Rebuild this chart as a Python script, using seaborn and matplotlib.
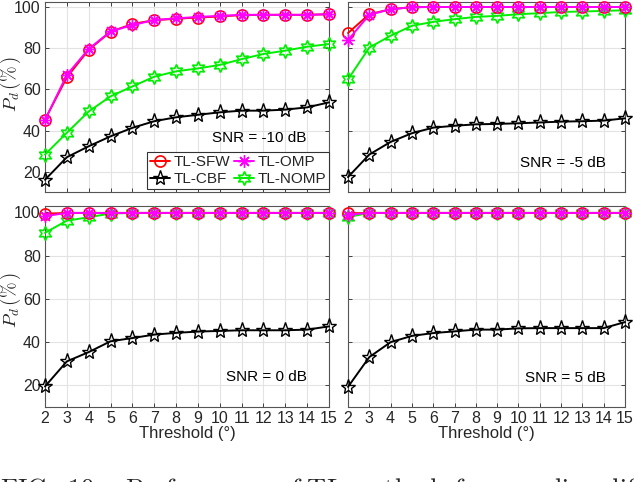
import numpy as np
import pandas as pd
import matplotlib
matplotlib.use("Agg")
import matplotlib.pyplot as plt
import seaborn as sns

thresholds = list(range(2, 16))

# SNR = -10 dB
sfw_m10 = [45.4, 65.8, 79.1, 87.8, 91.6, 93.4, 94.1, 94.7, 95.2, 95.9, 96.0, 96.0, 96.0, 96.3]
omp_m10 = [45.2, 67.0, 79.5, 88.0, 91.0, 93.5, 94.3, 95.0, 95.5, 96.0, 96.0, 96.0, 96.0, 96.3]
cbf_m10 = [16.3, 27.2, 32.5, 37.3, 41.4, 44.6, 46.5, 47.7, 48.9, 49.7, 49.7, 50.2, 51.3, 53.7]
nomp_m10 = [28.5, 39.0, 49.3, 56.6, 61.4, 66.1, 68.7, 70.1, 71.8, 74.6, 77.1, 78.7, 80.6, 81.9]

# SNR = -5 dB
sfw_m5 = [87.2, 96.3, 98.7, 99.7, 99.8, 99.8, 99.8, 99.8, 99.8, 99.8, 99.8, 99.8, 99.8, 99.8]
omp_m5 = [83.8, 96.0, 98.7, 99.7, 99.8, 99.8, 99.8, 99.8, 99.8, 99.8, 99.8, 99.8, 99.8, 99.8]
cbf_m5 = [17.6, 28.5, 34.6, 38.8, 41.5, 42.4, 43.1, 43.3, 43.6, 44.0, 44.4, 44.6, 44.9, 46.0]
nomp_m5 = [64.8, 80.2, 85.9, 90.7, 92.6, 93.9, 95.0, 95.5, 96.3, 96.8, 97.4, 97.6, 97.9, 98.2]

# SNR = 0 dB
sfw_0 = [99.4, 99.8, 99.8, 99.8, 99.8, 99.8, 99.8, 99.8, 99.8, 99.8, 99.8, 99.8, 99.8, 99.8]
omp_0 = [98.3, 99.8, 99.8, 99.8, 99.8, 99.8, 99.8, 99.8, 99.8, 99.8, 99.8, 99.8, 99.8, 99.8]
cbf_0 = [19.5, 31.1, 35.4, 40.4, 41.9, 43.5, 44.3, 44.9, 45.2, 45.5, 45.5, 45.5, 45.8, 47.3]
nomp_0 = [90.6, 96.2, 97.8, 99.5, 99.8, 99.8, 99.8, 99.8, 99.8, 99.8, 99.8, 99.8, 99.8, 99.8]

# SNR = 5 dB
sfw_5 = [99.6, 99.8, 99.8, 99.8, 99.8, 99.8, 99.8, 99.8, 99.8, 99.8, 99.8, 99.8, 99.8, 99.8]
omp_5 = [99.0, 99.8, 99.8, 99.8, 99.8, 99.8, 99.8, 99.8, 99.8, 99.8, 99.8, 99.8, 99.8, 99.8]
cbf_5 = [19.3, 33.1, 40.0, 42.9, 44.2, 45.0, 45.8, 45.8, 46.4, 46.5, 46.5, 46.5, 46.5, 49.3]
nomp_5 = [97.9, 99.8, 99.8, 99.8, 99.8, 99.8, 99.8, 99.8, 99.8, 99.8, 99.8, 99.8, 99.8, 99.8]

methods = ["TL-SFW", "TL-OMP", "TL-CBF", "TL-NOMP"]
snr_labels = ["SNR = -10 dB", "SNR = -5 dB", "SNR = 0 dB", "SNR = 5 dB"]
panels = [
    [sfw_m10, omp_m10, cbf_m10, nomp_m10],
    [sfw_m5, omp_m5, cbf_m5, nomp_m5],
    [sfw_0, omp_0, cbf_0, nomp_0],
    [sfw_5, omp_5, cbf_5, nomp_5],
]

sns.set_theme(style="ticks")
plt.rcParams["font.family"] = ["Liberation Sans", "DejaVu Sans"]
plt.rcParams["mathtext.fontset"] = "cm"

styles = {
    "TL-SFW": dict(color="#ff0000", marker="o", markersize=8, mfc="none", mec="#ff0000", mew=1.2),
    "TL-OMP": dict(color="#ff00ff", marker=(8, 2, 0), markersize=9, mec="#ff00ff", mew=1.0),
    "TL-CBF": dict(color="#000000", marker="*", markersize=11, mfc="none", mec="#000000", mew=1.0),
    "TL-NOMP": dict(color="#00ee00", marker=(6, 1, 0), markersize=10, mfc="none", mec="#00ee00", mew=1.2),
}
draw_order = ["TL-CBF", "TL-NOMP", "TL-SFW", "TL-OMP"]

W, H = 634, 482
fig = plt.figure(figsize=(W / 100, H / 100), dpi=100)
rects = [
    (45, 2, 284, 190),
    (348, 2, 277, 190),
    (45, 206, 284, 201),
    (348, 206, 277, 201),
]
ylims = [(10.4, 102.2), (10.4, 102.2), (10, 103), (10, 103)]
text_pos = [(0.755, 0.284), (0.776, 0.153), (0.78, 0.151), (0.784, 0.146)]
ylabel_y = [84, None, 300, None]

for i, (l, t, w, h) in enumerate(rects):
    ax = fig.add_axes([l / W, 1 - (t + h) / H, w / W, h / H])
    df = pd.DataFrame({"Threshold": thresholds * 4,
                       "Pd": sum(panels[i], []),
                       "Method": sum([[m] * len(thresholds) for m in methods], [])})
    for m in draw_order:
        sub = df[df["Method"] == m]
        st = styles[m]
        sns.lineplot(data=sub, x="Threshold", y="Pd", ax=ax, color=st["color"],
                     marker=st["marker"], markersize=st["markersize"],
                     markerfacecolor=st.get("mfc", st["color"]),
                     markeredgecolor=st["mec"], markeredgewidth=st["mew"],
                     linewidth=1.4, label=m, clip_on=False, zorder=3, legend=False)
    ax.set_xlim(2, 15)
    ax.set_ylim(*ylims[i])
    ax.set_xticks(thresholds)
    ax.set_yticks([20, 40, 60, 80, 100])
    ax.grid(True, color="#e3e3e3", linewidth=0.8)
    ax.set_axisbelow(True)
    ax.tick_params(direction="in", length=3, top=True, right=True, labelsize=11.5,
                   colors="#262626", width=0.6, pad=3)
    for s in ax.spines.values():
        s.set_color("#555555")
        s.set_linewidth(0.8)
    ax.set_xlabel("")
    ax.set_ylabel("")
    if i < 2:
        ax.set_xticklabels([])
    else:
        ax.set_xlabel("Threshold (°)", fontsize=12, color="#262626", labelpad=0)
    if i % 2 == 1:
        ax.set_yticklabels([])
    else:
        fig.text(11 / W, 1 - ylabel_y[i] / H, r"$P_d\,(\%\,)$", rotation=90,
                 ha="center", va="center", fontsize=13.5, color="#262626")
    ax.text(text_pos[i][0], text_pos[i][1], snr_labels[i], transform=ax.transAxes,
            ha="center", va="center", fontsize=11, color="#000000")
    if i == 0:
        handles, labels = ax.get_legend_handles_labels()
        col_order = ["TL-SFW", "TL-CBF", "TL-OMP", "TL-NOMP"]
        order = [labels.index(m) for m in col_order]
        leg = ax.legend([handles[k] for k in order], [labels[k] for k in order],
                        ncol=2, loc="lower right", bbox_to_anchor=(1.0, 0.016),
                        borderaxespad=0, fontsize=11, frameon=True, fancybox=False,
                        handlelength=1.3, handletextpad=0.2, columnspacing=0.3,
                        borderpad=0.2, labelspacing=0.2, framealpha=1)
        leg.get_frame().set_edgecolor("#333333")
        leg.get_frame().set_linewidth(0.8)

fig.text(0.0, 1 - 476.5 / H,
         r"$\mathrm{FIG.\ 10:\ \ Performance\ of\ TL\ methods\ for\ sampling\ different\ targets}$",
         ha="left", va="top", fontsize=19)

fig.savefig("out.png", dpi=100)
